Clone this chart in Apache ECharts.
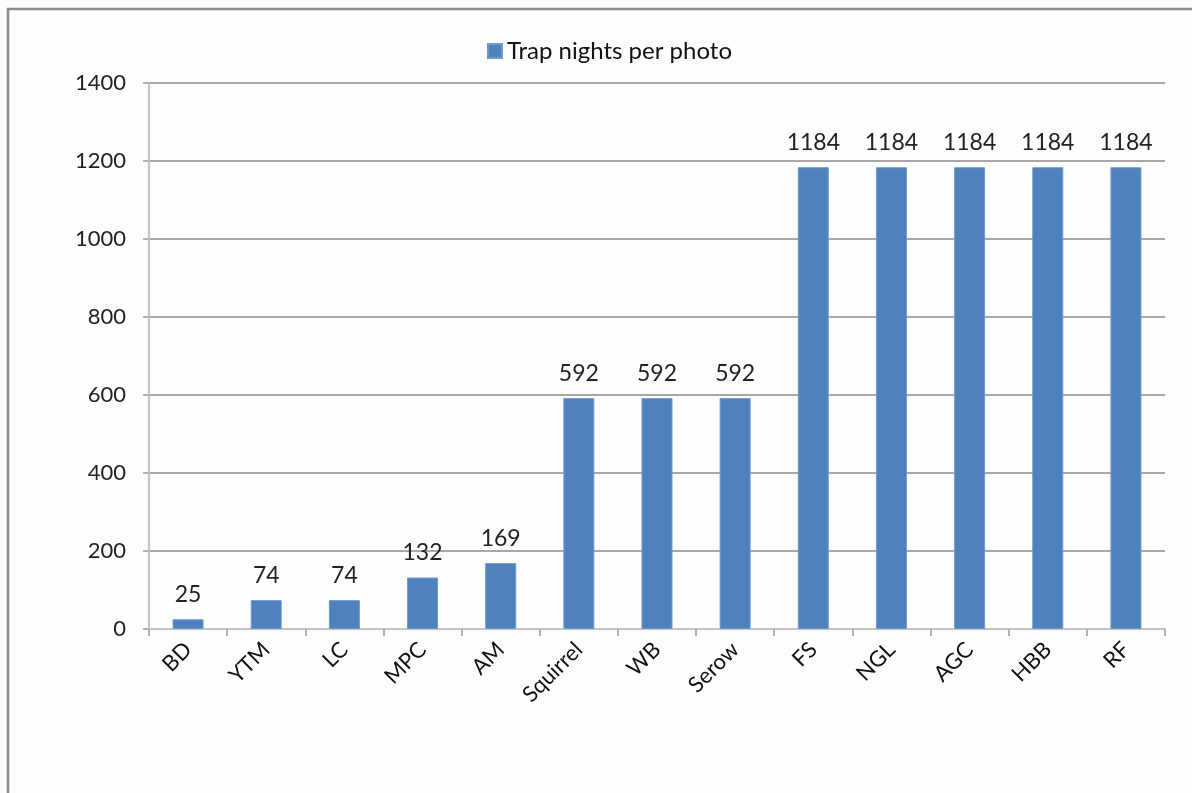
<!DOCTYPE html>
<html>
<head>
<meta charset="utf-8">
<script src="https://cdn.jsdelivr.net/npm/echarts@6/dist/echarts.min.js"></script>
<style>
  html, body { margin: 0; padding: 0; background: #fdfdfd; }
  #chart { width: 1192px; height: 793px; }
</style>
</head>
<body>
<div id="chart"></div>
<script>
// Species codes along the x axis
const categories = ['BD', 'YTM', 'LC', 'MPC', 'AM', 'Squirrel', 'WB', 'Serow', 'FS', 'NGL', 'AGC', 'HBB', 'RF'];
// Trap nights needed per photograph of each species
const trapNightsPerPhoto = [25, 74, 74, 132, 169, 592, 592, 592, 1184, 1184, 1184, 1184, 1184];
const seriesName = 'Trap nights per photo';
// Value axis range
const yMin = 0;
const yMax = 1400;
const yStep = 200;

const font = 'Lato, "Open Sans", sans-serif';
const chart = echarts.init(document.getElementById('chart'), null, { renderer: 'canvas' });

chart.setOption({
  backgroundColor: '#fdfdfd',
  animation: false,
  graphic: [{
    type: 'rect',
    shape: { x: 8, y: 9, width: 1400, height: 1000 },
    style: { fill: 'none', stroke: '#8a8a8a', lineWidth: 2.5 },
    silent: true
  }],
  legend: {
    left: 482,
    top: 34,
    icon: 'rect',
    itemWidth: 14,
    itemHeight: 14,
    itemGap: 8,
    textStyle: { fontFamily: font, fontSize: 24, color: '#111' },
    data: [seriesName]
  },
  grid: { left: 149, right: 27, top: 83, bottom: 164, containLabel: false },
  xAxis: {
    type: 'category',
    data: categories,
    axisLine: { show: true, lineStyle: { color: '#c4c4c4', width: 2 } },
    axisTick: { show: true, alignWithLabel: false, length: 7, lineStyle: { color: '#b0b0b0', width: 2 } },
    axisLabel: {
      rotate: 45,
      margin: 17,
      fontFamily: font,
      fontSize: 22,
      color: '#111'
    }
  },
  yAxis: {
    type: 'value',
    min: yMin,
    max: yMax,
    interval: yStep,
    axisLine: { show: true, lineStyle: { color: '#c4c4c4', width: 2 } },
    axisTick: { show: true, length: 6, lineStyle: { color: '#b0b0b0', width: 2 } },
    splitLine: { show: true, lineStyle: { color: '#a8a8a8', width: 2 } },
    axisLabel: {
      margin: 23,
      fontFamily: font,
      fontSize: 22,
      color: '#222',
      formatter: (v) => String(v)
    }
  },
  series: [{
    name: seriesName,
    type: 'bar',
    data: trapNightsPerPhoto,
    barWidth: 31,
    itemStyle: { color: '#4f81bd', borderColor: '#6f9ad0', borderWidth: 1 },
    label: {
      show: true,
      position: 'top',
      distance: 13,
      fontFamily: font,
      fontSize: 23,
      color: '#222'
    }
  }]
});
</script>
</body>
</html>
